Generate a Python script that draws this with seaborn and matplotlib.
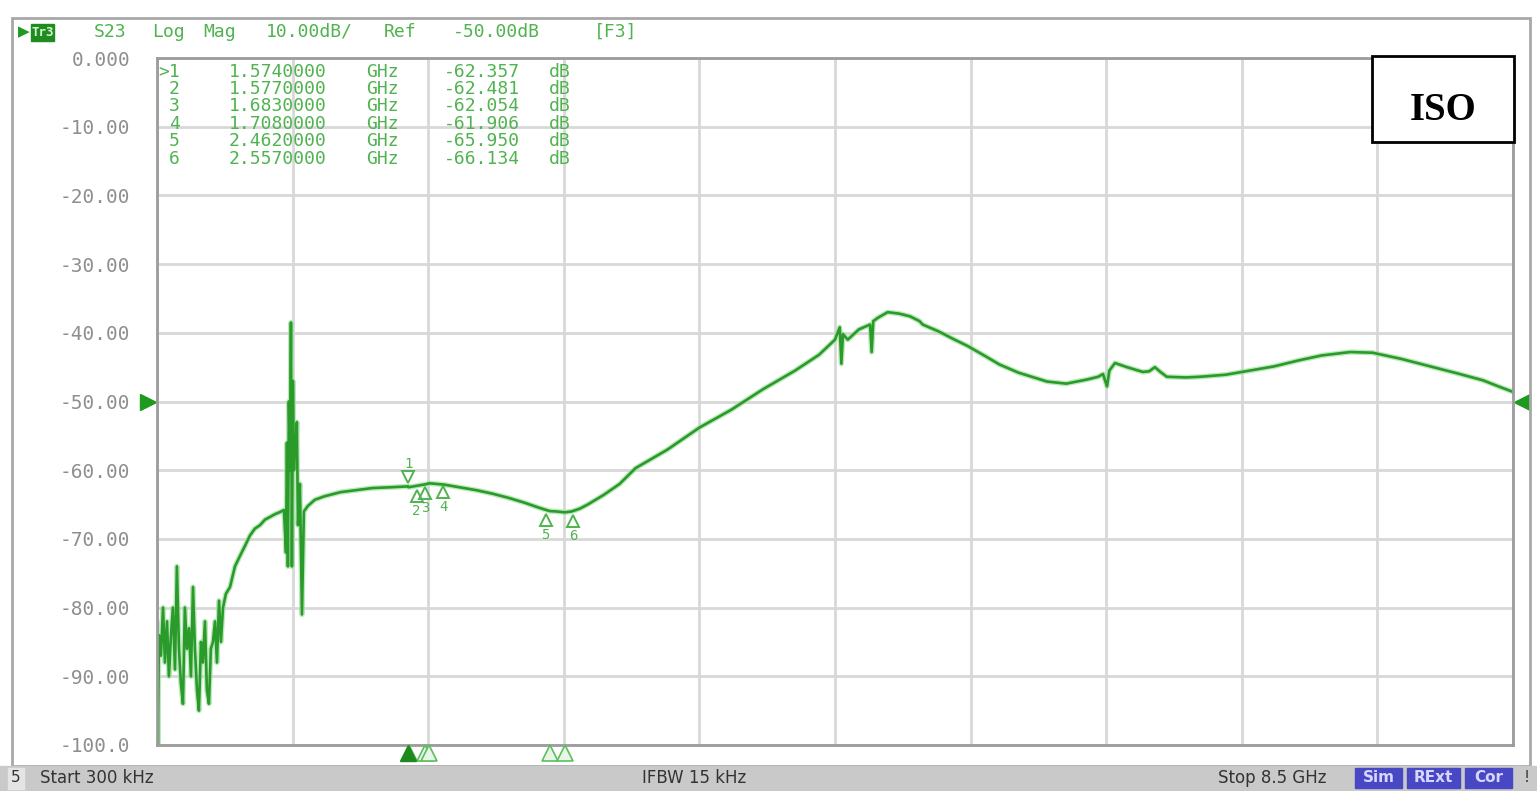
import numpy as np
import pandas as pd
import matplotlib
matplotlib.use("Agg")
import matplotlib.pyplot as plt
import seaborn as sns
from matplotlib.patches import Rectangle
from matplotlib.transforms import blended_transform_factory, offset_copy

# ---------------------------------------------------------------- data
# S23 isolation trace: frequency (GHz) and magnitude (dB)
freq_ghz = [
    0.0003, 0.006, 0.012, 0.025, 0.038, 0.050, 0.063, 0.075, 0.088, 0.100,
    0.113, 0.125, 0.138, 0.150, 0.163, 0.175, 0.188, 0.201, 0.213, 0.226,
    0.238, 0.251, 0.263, 0.276, 0.288, 0.301, 0.313, 0.326, 0.338, 0.351,
    0.364, 0.376, 0.389, 0.401, 0.414, 0.432, 0.458, 0.489, 0.520, 0.552,
    0.583, 0.614, 0.646, 0.677, 0.708, 0.740, 0.771, 0.796, 0.809, 0.815,
    0.821, 0.827, 0.834, 0.840, 0.846, 0.852, 0.859, 0.865, 0.871, 0.877,
    0.884, 0.896, 0.909, 0.921, 0.946, 0.990, 1.05, 1.15, 1.25, 1.35,
    1.45, 1.574, 1.577, 1.683, 1.708, 1.80, 1.90, 2.00, 2.10, 2.20,
    2.30, 2.40, 2.462, 2.50, 2.557, 2.60, 2.65, 2.70, 2.80, 2.90,
    3.00, 3.20, 3.40, 3.60, 3.80, 4.00, 4.15, 4.25, 4.28, 4.29,
    4.30, 4.33, 4.40, 4.47, 4.48, 4.49, 4.52, 4.58, 4.65, 4.72,
    4.78, 4.80, 4.90, 5.00, 5.08, 5.20, 5.28, 5.40, 5.58, 5.70,
    5.83, 5.90, 5.93, 5.955, 5.97, 6.005, 6.08, 6.18, 6.22, 6.255,
    6.29, 6.33, 6.45, 6.54, 6.70, 6.85, 7.00, 7.16, 7.30, 7.48,
    7.62, 7.80, 8.00, 8.15, 8.31, 8.42, 8.50,
]
mag_db = [
    -82, -100, -84, -87, -80, -88, -82, -90, -84, -80,
    -89, -74, -86, -91, -94, -80, -86, -83, -90, -77,
    -86, -92, -95, -85, -88, -82, -92, -94, -86, -85,
    -82, -88, -79, -85, -80, -78, -77, -74, -72.5, -71,
    -69.5, -68.5, -68, -67.2, -66.8, -66.4, -66.1, -65.8, -72, -56,
    -74, -50, -60, -38.5, -74, -47, -60, -55, -58, -53,
    -68, -62, -81, -66, -65.2, -64.3, -63.8, -63.2, -62.9, -62.6,
    -62.5, -62.357, -62.481, -62.054, -61.906, -62.1, -62.5, -62.9, -63.4, -64.0,
    -64.7, -65.5, -65.95, -66.0, -66.134, -66.0, -65.6, -65.0, -63.6, -62.0,
    -59.7, -57.0, -53.8, -51.2, -48.2, -45.5, -43.2, -41.0, -39.2, -44.5,
    -40.2, -41.0, -39.5, -38.8, -42.8, -38.3, -37.8, -37.0, -37.2, -37.6,
    -38.3, -38.8, -39.8, -41.0, -41.9, -43.5, -44.6, -45.8, -47.1, -47.4,
    -46.8, -46.4, -46.0, -47.8, -45.5, -44.4, -45.0, -45.7, -45.6, -45.0,
    -45.7, -46.4, -46.5, -46.4, -46.1, -45.5, -44.9, -44.0, -43.3, -42.8,
    -42.9, -43.8, -45.0, -45.9, -46.9, -47.9, -48.6,
]

# marker table
marker_ids = ["1", "2", "3", "4", "5", "6"]
marker_freq_ghz = [1.574, 1.577, 1.683, 1.708, 2.462, 2.557]
marker_db = [-62.357, -62.481, -62.054, -61.906, -65.950, -66.134]

# vertical scale labels
ytick_values = [0, -10, -20, -30, -40, -50, -60, -70, -80, -90, -100]
ytick_labels = ["0.000", "-10.00", "-20.00", "-30.00", "-40.00", "-50.00",
                "-60.00", "-70.00", "-80.00", "-90.00", "-100.0"]

start_ghz = 0.0003
stop_ghz = 8.5
ref_level_db = -50

# ---------------------------------------------------------------- style
sns.set_style("white")
MONO = "DejaVu Sans Mono"
TRACE = "#2a9a2a"
HALO = "#9ee09e"
TXT_GREEN = "#4fb34f"
GRID = "#d8d8d8"
FRAME = "#9c9c9c"

W, H = 1537, 791
fig = plt.figure(figsize=(W / 100, H / 100), dpi=100, facecolor="white")


def fx(x):
    return x / W


def fy(y):
    return 1 - y / H


# outer instrument frame
fig.patches.append(Rectangle((fx(12), fy(766)), fx(1530) - fx(12), fy(18) - fy(766),
                             transform=fig.transFigure, fill=False,
                             edgecolor="#a8a8a8", lw=2))

ax = fig.add_axes([fx(157), fy(745), fx(1513) - fx(157), fy(58) - fy(745)])

df = pd.DataFrame({"freq": freq_ghz, "db": mag_db})
sns.lineplot(data=df, x="freq", y="db", ax=ax, color=HALO, lw=3.8,
             estimator=None, sort=False, alpha=0.7)
sns.lineplot(data=df, x="freq", y="db", ax=ax, color=TRACE, lw=1.9,
             estimator=None, sort=False)

ax.set_xlim(start_ghz, stop_ghz)
ax.set_ylim(-100, 0)
ax.set_xticks(np.linspace(start_ghz, stop_ghz, 11))
ax.set_xticklabels([])
ax.set_yticks(ytick_values)
ax.set_yticklabels(ytick_labels, fontfamily=MONO, fontsize=14, color="#8e8e8e")
ax.tick_params(axis="both", length=0)
ax.tick_params(axis="y", pad=19)
ax.grid(True, color=GRID, lw=2)
ax.set_axisbelow(True)
ax.set_xlabel("")
ax.set_ylabel("")
for sp in ax.spines.values():
    sp.set_color(FRAME)
    sp.set_linewidth(2)

# reference level arrows at both edges
ref_tr = blended_transform_factory(ax.transAxes, ax.transData)
ax.plot([-9 / 1356], [ref_level_db], marker=">", ms=12, color="#1f9a1f",
        transform=ref_tr, clip_on=False)
ax.plot([1 + 9 / 1356], [ref_level_db], marker="<", ms=12, color="#1f9a1f",
        transform=ref_tr, clip_on=False)

# markers on the trace
for i, (mid, f, d) in enumerate(zip(marker_ids, marker_freq_ghz, marker_db)):
    if i == 0:
        tri_tr = offset_copy(ax.transData, fig=fig, x=0, y=9, units="dots")
        ax.plot([f], [d], marker="v", ms=8, mfc="none", mec=TXT_GREEN, mew=1.4,
                transform=tri_tr, clip_on=False)
        ax.annotate(mid, (f, d), xytext=(0, 22), textcoords="offset pixels",
                    ha="center", va="center", fontsize=10, family=MONO, color=TXT_GREEN)
    else:
        dx = {1: 8, 2: 0, 3: 14, 4: -4, 5: 8}[i]
        tri_tr = offset_copy(ax.transData, fig=fig, x=dx, y=-9, units="dots")
        ax.plot([f], [d], marker="^", ms=8, mfc="none", mec=TXT_GREEN, mew=1.4,
                transform=tri_tr, clip_on=False)
        ax.annotate(mid, (f, d), xytext=(dx, -24), textcoords="offset pixels",
                    ha="center", va="center", fontsize=10, family=MONO, color=TXT_GREEN)

# marker indicators below the grid
low_tr = blended_transform_factory(ax.transData, ax.transAxes)
for i, f in enumerate(marker_freq_ghz):
    if i == 0:
        ax.plot([f], [-0.011], marker="^", ms=11, color="#1e8a1e",
                transform=low_tr, clip_on=False, zorder=6)
    else:
        ax.plot([f], [-0.011], marker="^", ms=11, mfc="#e8f6e8", mec="#5cbf5c",
                mew=1.2, transform=low_tr, clip_on=False, zorder=5)

# marker readout table
row_y = [72, 89, 106, 124, 141, 159]
for k, (mid, f, d) in enumerate(zip(marker_ids, marker_freq_ghz, marker_db)):
    y = fy(row_y[k])
    idx = (">" + mid) if k == 0 else mid
    fig.text(fx(180), y, idx, ha="right", va="center", family=MONO, fontsize=13,
             color=TXT_GREEN)
    fig.text(fx(278), y, f"{f:.7f}", ha="center", va="center", family=MONO,
             fontsize=13, color=TXT_GREEN)
    fig.text(fx(382), y, "GHz", ha="center", va="center", family=MONO,
             fontsize=13, color=TXT_GREEN)
    fig.text(fx(482), y, f"{d:.3f}", ha="center", va="center", family=MONO,
             fontsize=13, color=TXT_GREEN)
    fig.text(fx(560), y, "dB", ha="center", va="center", family=MONO,
             fontsize=13, color=TXT_GREEN)

# trace header line
fig.text(fx(24), fy(32), "\u25B6", ha="center", va="center", fontsize=11,
         color="#1f9a1f", family="DejaVu Sans")
fig.patches.append(Rectangle((fx(31), fy(41)), fx(54) - fx(31), fy(24) - fy(41),
                             transform=fig.transFigure, color="#1e8c1e"))
fig.text(fx(42.5), fy(32.5), "Tr3", ha="center", va="center", fontsize=9,
         color="#d8f5d8", family=MONO, fontweight="bold")
header_words = ["S23", "Log", "Mag", "10.00dB/", "Ref", "-50.00dB", "[F3]"]
header_x = [110, 168, 220, 309, 400, 496, 616]
for wrd, xc in zip(header_words, header_x):
    fig.text(fx(xc), fy(32), wrd, ha="center", va="center", family=MONO,
             fontsize=13, color=TXT_GREEN)

# ISO tag
fig.patches.append(Rectangle((fx(1372), fy(142)), fx(1514) - fx(1372), fy(56) - fy(142),
                             transform=fig.transFigure, facecolor="white",
                             edgecolor="black", lw=2, zorder=5))
fig.text(fx(1443), fy(110), "ISO", ha="center", va="center", fontsize=28,
         fontweight="bold", family=["Liberation Serif", "DejaVu Serif"],
         color="black", zorder=6)

# status bar
fig.patches.append(Rectangle((0, 0), 1, fy(766), transform=fig.transFigure,
                             color="#c9c9c9"))
fig.patches.append(Rectangle((fx(8), fy(789)), fx(24) - fx(8), fy(768) - fy(789),
                             transform=fig.transFigure, color="#e4e4e4"))
fig.text(fx(16), fy(778), "5", ha="center", va="center", fontsize=11,
         color="#333333")
fig.text(fx(40), fy(778), "Start 300 kHz", ha="left", va="center", fontsize=12,
         color="#333333")
fig.text(fx(694), fy(778), "IFBW 15 kHz", ha="center", va="center", fontsize=12,
         color="#333333")
fig.text(fx(1272), fy(778), "Stop 8.5 GHz", ha="center", va="center", fontsize=12,
         color="#333333")
for lbl, x0, x1 in [("Sim", 1355, 1402), ("RExt", 1407, 1460), ("Cor", 1465, 1512)]:
    fig.patches.append(Rectangle((fx(x0), fy(788)), fx(x1) - fx(x0), fy(768) - fy(788),
                                 transform=fig.transFigure, color="#4848c4"))
    fig.text(fx((x0 + x1) / 2), fy(778), lbl, ha="center", va="center",
             fontsize=11, color="#d6d6ff", fontweight="bold")
fig.text(fx(1527), fy(778), "!", ha="center", va="center", fontsize=11,
         color="#333333")

fig.savefig("out.png", dpi=100, facecolor="white")
